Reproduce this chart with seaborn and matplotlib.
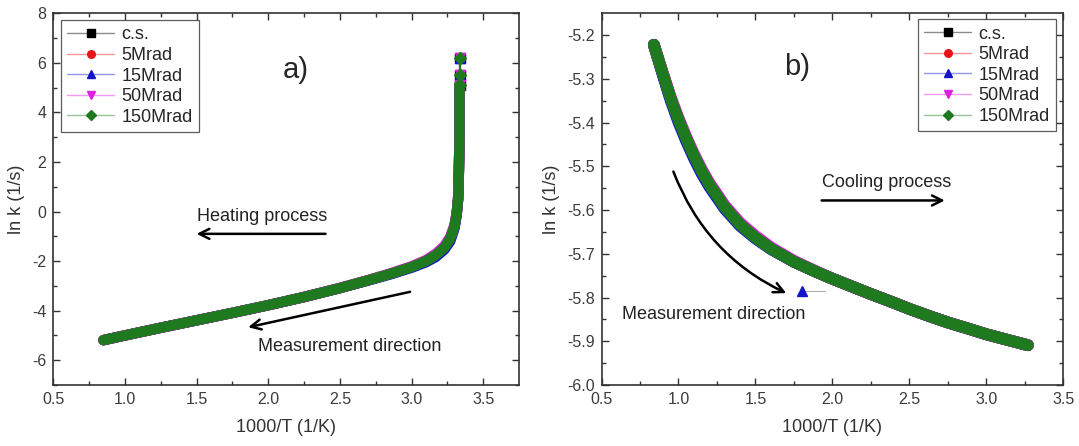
import numpy as np
import pandas as pd
import matplotlib
matplotlib.use("Agg")
import matplotlib.pyplot as plt
import seaborn as sns
from matplotlib.lines import Line2D
from matplotlib.colors import to_rgba

sns.set_theme(style="ticks")
plt.rcParams["font.family"] = ["Liberation Sans", "DejaVu Sans"]
plt.rcParams["axes.unicode_minus"] = False

series = ["c.s.", "5Mrad", "15Mrad", "50Mrad", "150Mrad"]
colors = ["#000000", "#e8141c", "#1414c8", "#e020e0", "#1f7a1f"]
markers = ["s", "o", "^", "v", "D"]

# a) heating run, read off the band centre
heat_x = [0.85, 1.0, 1.25, 1.5, 1.75, 2.0, 2.25, 2.5, 2.7, 2.85, 3.0, 3.1, 3.17, 3.23, 3.27,
          3.3, 3.315, 3.325, 3.33, 3.335, 3.335]
heat_y = [-5.19, -5.0, -4.69, -4.39, -4.09, -3.78, -3.45, -3.09, -2.77, -2.52, -2.24, -2.0, -1.76,
          -1.45, -1.1, -0.6, -0.1, 0.5, 1.5, 3.0, 5.1]
heat_y_15 = [-5.19, -5.0, -4.69, -4.39, -4.09, -3.78, -3.45, -3.09, -2.78, -2.54, -2.27, -2.05, -1.83,
             -1.53, -1.2, -0.68, -0.15, 0.5, 1.5, 3.0, 5.1]
heat_y_50 = [-5.19, -5.0, -4.69, -4.39, -4.09, -3.78, -3.45, -3.08, -2.76, -2.5, -2.21, -1.96, -1.7,
             -1.38, -1.02, -0.53, -0.05, 0.5, 1.5, 3.0, 5.1]
heat_top_x = [3.335, 3.335, 3.335]
heat_top_y = [5.1, 5.5, 6.18]

# b) cooling run
cool_x = [0.84, 0.9, 0.95, 1.0, 1.05, 1.1, 1.15, 1.2, 1.3, 1.4, 1.5, 1.6, 1.75, 1.9, 2.0,
          2.15, 2.25, 2.4, 2.5, 2.65, 2.75, 2.9, 3.0, 3.15, 3.27]
cool_y = [-5.222, -5.29, -5.345, -5.393, -5.436, -5.475, -5.51, -5.541, -5.593, -5.633, -5.663,
          -5.688, -5.718, -5.742, -5.757, -5.778, -5.792, -5.812, -5.826, -5.845, -5.857, -5.873,
          -5.884, -5.898, -5.909]
cool_y_15 = [-5.222, -5.293, -5.35, -5.399, -5.442, -5.481, -5.516, -5.546, -5.597, -5.636, -5.665,
             -5.689, -5.718, -5.742, -5.757, -5.778, -5.792, -5.812, -5.826, -5.845, -5.857, -5.873,
             -5.884, -5.898, -5.909]
cool_y_50 = [-5.222, -5.288, -5.342, -5.389, -5.432, -5.471, -5.506, -5.537, -5.589, -5.629, -5.659,
             -5.685, -5.716, -5.741, -5.757, -5.778, -5.792, -5.812, -5.826, -5.845, -5.857, -5.873,
             -5.884, -5.898, -5.909]
out_x = [1.80, 1.95]
out_y = [-5.784, -5.784]

heat = {"c.s.": heat_y, "5Mrad": heat_y, "15Mrad": heat_y_15, "50Mrad": heat_y_50, "150Mrad": heat_y}
cool = {"c.s.": cool_y, "5Mrad": cool_y, "15Mrad": cool_y_15, "50Mrad": cool_y_50, "150Mrad": cool_y}

W, H = 1079, 446
fig = plt.figure(figsize=(W / 100, H / 100), dpi=100)
ax1 = fig.add_axes([53.3 / W, (H - 385) / H, 465.7 / W, 371.7 / H])
ax2 = fig.add_axes([601.5 / W, (H - 385) / H, 461.8 / W, 371.7 / H])

edge = "#333333"
for ax in (ax1, ax2):
    for s in ax.spines.values():
        s.set_color(edge)
        s.set_linewidth(1.2)
    ax.tick_params(which="both", direction="in", top=True, right=True, colors=edge,
                   labelcolor="#3c3c3c", labelsize=11.5)
    ax.tick_params(which="major", length=5, width=1.0, pad=5)
    ax.tick_params(which="minor", length=3, width=1.0)
    ax.set_xlabel("1000/T (1/K)", fontsize=13, color="#333333", labelpad=9)
    ax.set_ylabel("ln k (1/s)", fontsize=13, color="#333333", labelpad=5)

# heating panel
for name, c, m in zip(series, colors, markers):
    sns.lineplot(x=heat_x, y=heat[name], ax=ax1, color=c, lw=7.5, estimator=None,
                 sort=False, legend=False, solid_capstyle="round")
    ax1.plot(heat_top_x, heat_top_y, color=c, lw=1.5, marker=m, ms=6.5)

ax1.set_xlim(0.5, 3.75)
ax1.set_ylim(-7, 8)
ax1.set_xticks(np.arange(0.5, 3.51, 0.5))
ax1.set_xticks(np.arange(0.75, 3.75, 0.5), minor=True)
ax1.set_yticks(np.arange(-6, 8.1, 2))
ax1.set_yticks(np.arange(-7, 8, 2), minor=True)
ax1.xaxis.set_major_formatter(plt.FormatStrFormatter("%.1f"))

ax1.text(2.19, 5.71, "a)", fontsize=21, ha="center", va="center")
ax1.text(1.96, -0.21, "Heating process", fontsize=13, ha="center", va="center", color="#222222")
ax1.annotate("", xy=(1.5, -0.9), xytext=(2.4, -0.9),
             arrowprops=dict(arrowstyle="->", lw=1.8, color="black", mutation_scale=18,
                             shrinkA=0, shrinkB=0))
ax1.text(1.93, -5.45, "Measurement direction", fontsize=13, ha="left", va="center", color="#222222")
ax1.annotate("", xy=(1.86, -4.67), xytext=(2.99, -3.24),
             arrowprops=dict(arrowstyle="->", lw=1.8, color="black", mutation_scale=18,
                             shrinkA=0, shrinkB=0))

# cooling panel
ax2.plot(out_x, out_y, color="#b0b0b0", lw=0.8, zorder=1)
ax2.plot(out_x[:1], out_y[:1], color=colors[2], marker="^", ms=6.5, lw=0, zorder=3)
for name, c in zip(series, colors):
    sns.lineplot(x=cool_x, y=cool[name], ax=ax2, color=c, lw=8.5, estimator=None,
                 sort=False, legend=False, solid_capstyle="round", zorder=2)

ax2.set_xlim(0.5, 3.5)
ax2.set_ylim(-6.0, -5.15)
ax2.set_xticks(np.arange(0.5, 3.51, 0.5))
ax2.set_xticks(np.arange(0.75, 3.5, 0.5), minor=True)
ax2.set_yticks(np.arange(-6.0, -5.15, 0.1))
ax2.set_yticks(np.arange(-5.95, -5.15, 0.1), minor=True)
ax2.xaxis.set_major_formatter(plt.FormatStrFormatter("%.1f"))
ax2.yaxis.set_major_formatter(plt.FormatStrFormatter("%.1f"))

ax2.text(1.77, -5.272, "b)", fontsize=21, ha="center", va="center")
ax2.text(2.355, -5.536, "Cooling process", fontsize=13, ha="center", va="center", color="#222222")
ax2.annotate("", xy=(2.73, -5.578), xytext=(1.93, -5.578),
             arrowprops=dict(arrowstyle="->", lw=1.8, color="black", mutation_scale=18,
                             shrinkA=0, shrinkB=0))
ax2.text(0.63, -5.839, "Measurement direction", fontsize=13, ha="left", va="center", color="#222222")
ax2.annotate("", xy=(1.70, -5.79), xytext=(0.967, -5.512),
             arrowprops=dict(arrowstyle="->", lw=1.8, color="black", mutation_scale=18,
                             shrinkA=0, shrinkB=0, connectionstyle="arc3,rad=0.2"))

handles = [Line2D([], [], color=to_rgba(c, 0.45), lw=1, marker=m, ms=5.5,
                  markerfacecolor=c, markeredgecolor=c) for c, m in zip(colors, markers)]
leg_kw = dict(fontsize=13, frameon=True, fancybox=False, edgecolor="#333333",
              handlelength=2.6, handletextpad=0.4, labelspacing=0.2, borderpad=0.35,
              borderaxespad=0)
l1 = ax1.legend(handles, series, loc="upper left", bbox_to_anchor=(0.0165, 0.982), **leg_kw)
l2 = ax2.legend(handles, series, loc="upper right", bbox_to_anchor=(0.984, 0.984), **leg_kw)
for l in (l1, l2):
    l.get_frame().set_linewidth(0.9)

fig.savefig("out.png", dpi=100)
